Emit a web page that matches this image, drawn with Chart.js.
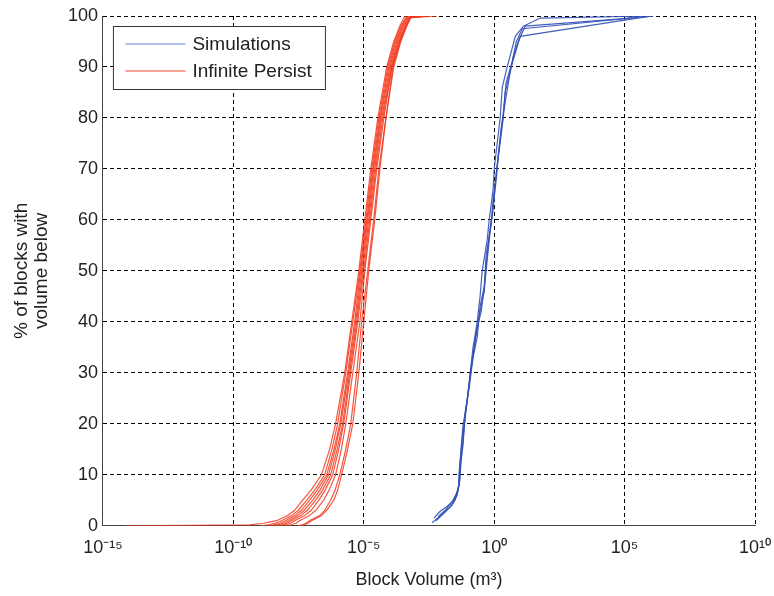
<!DOCTYPE html>
<html>
<head>
<meta charset="utf-8">
<script src="https://cdn.jsdelivr.net/npm/chart.js@4"></script>
<style>
  html, body { margin: 0; padding: 0; background: #fff; }
  #chart { display: block; }
</style>
</head>
<body>
<canvas id="chart" width="774" height="596"></canvas>
<script>
// cumulative % of blocks, shared by every infinite-persistence run
const persistPct = [0, 0.2, 0.5, 1, 2, 3, 5, 7, 10, 15, 20, 30, 40, 50, 60, 70, 80, 90, 95, 98, 99.7, 100];

// log10 of block volume (m3), one array per infinite-persistence run
const persistRun1 = [-14.12, -9.38, -8.85, -8.35, -7.92, -7.66, -7.35, -7.02, -6.62, -6.31, -6.08, -5.73, -5.46, -5.19, -4.96, -4.73, -4.46, -4.12, -3.85, -3.62, -3.46, -3.38];
const persistRun2 = [-8.92, -8.69, -8.40, -8.15, -7.77, -7.52, -7.19, -6.88, -6.50, -6.22, -6.00, -5.69, -5.42, -5.15, -4.92, -4.69, -4.42, -4.08, -3.81, -3.58, -3.38, -3.31];
const persistRun3 = [-8.69, -8.46, -8.22, -8.00, -7.65, -7.40, -7.08, -6.78, -6.42, -6.14, -5.92, -5.62, -5.35, -5.12, -4.88, -4.65, -4.38, -4.04, -3.77, -3.54, -3.35, -3.23];
const persistRun4 = [-8.54, -8.31, -8.07, -7.88, -7.54, -7.29, -6.96, -6.68, -6.35, -6.09, -5.88, -5.58, -5.31, -5.08, -4.85, -4.62, -4.35, -4.00, -3.73, -3.50, -3.31, -3.15];
const persistRun5 = [-8.38, -8.15, -7.94, -7.77, -7.42, -7.17, -6.85, -6.58, -6.27, -6.02, -5.81, -5.54, -5.27, -5.04, -4.81, -4.58, -4.31, -3.96, -3.69, -3.46, -3.27, -3.08];
const persistRun6 = [-8.23, -8.00, -7.80, -7.65, -7.27, -7.02, -6.73, -6.48, -6.19, -5.96, -5.77, -5.50, -5.23, -5.00, -4.77, -4.54, -4.27, -3.92, -3.65, -3.42, -3.23, -2.92];
const persistRun7 = [-8.00, -7.77, -7.60, -7.46, -7.08, -6.85, -6.54, -6.33, -6.08, -5.86, -5.69, -5.42, -5.15, -4.96, -4.73, -4.50, -4.23, -3.92, -3.62, -3.38, -3.23, -2.69];
const persistRun8 = [-7.54, -7.35, -7.22, -7.08, -6.69, -6.50, -6.27, -6.10, -5.92, -5.69, -5.50, -5.27, -5.08, -4.85, -4.62, -4.42, -4.15, -3.85, -3.58, -3.35, -3.19, -2.19];
const persistRun9 = [-7.46, -7.27, -7.14, -7.00, -6.62, -6.43, -6.15, -6.00, -5.85, -5.62, -5.42, -5.19, -5.00, -4.81, -4.58, -4.38, -4.15, -3.88, -3.62, -3.38, -3.23, -2.46];

// simulation runs: cumulative % and log10 of block volume (m3)
const simPct1 = [0.6, 2.2, 3.7, 5, 8, 10, 15, 20, 24, 30, 35, 40, 45, 50, 56, 60, 66, 70, 80, 86, 90, 96, 98, 99.6, 100];
const simVol1 = [-2.38, -2.00, -1.69, -1.50, -1.35, -1.35, -1.27, -1.19, -1.04, -0.92, -0.81, -0.65, -0.54, -0.46, -0.27, -0.19, -0.04, 0.00, 0.23, 0.31, 0.50, 0.81, 1.12, 1.77, 6.08];
const simPct2 = [1.5, 2.8, 3.8, 4.8, 6, 8, 12, 17, 21, 26, 31, 36, 41, 46, 51, 57, 61, 68, 72, 80, 85, 90, 96, 99.2, 100];
const simVol2 = [-2.31, -2.08, -1.81, -1.58, -1.46, -1.35, -1.31, -1.23, -1.12, -1.00, -0.88, -0.73, -0.58, -0.38, -0.31, -0.19, -0.08, 0.08, 0.15, 0.35, 0.42, 0.65, 1.00, 5.00, 6.08];
const simPct3 = [1, 2.5, 4, 6, 9, 13, 19, 23, 28, 32, 38, 42, 48, 52, 58, 62, 67, 71, 78, 83, 88, 92, 95, 98, 99.5, 100];
const simVol3 = [-2.23, -1.92, -1.62, -1.42, -1.31, -1.27, -1.15, -1.08, -0.96, -0.85, -0.69, -0.50, -0.35, -0.27, -0.15, -0.04, 0.04, 0.12, 0.27, 0.42, 0.58, 0.73, 0.92, 1.19, 5.00, 5.62];
const simPct4 = [1.8, 3.2, 5, 7, 11, 16, 22, 27, 33, 37, 43, 47, 53, 59, 64, 69, 74, 81, 87, 91, 95, 97.5, 100];
const simVol4 = [-2.15, -1.85, -1.58, -1.38, -1.31, -1.19, -1.12, -0.96, -0.81, -0.65, -0.54, -0.38, -0.31, -0.12, -0.04, 0.08, 0.19, 0.35, 0.46, 0.69, 0.85, 1.08, 6.08];

// axis ticks
const xTickExponents = [-15, -10, -5, 0, 5, 10];
const yTicks = [0, 10, 20, 30, 40, 50, 60, 70, 80, 90, 100];

const FONT = "'Liberation Sans', Arial, Helvetica, sans-serif";
const RED = 'rgba(242, 55, 28, 0.85)';
const BLUE = 'rgba(50, 80, 180, 0.9)';

const SUP = {'-': '\u207B', '0': '\u2070', '1': '\u00B9', '2': '\u00B2', '3': '\u00B3',
    '4': '\u2074', '5': '\u2075', '6': '\u2076', '7': '\u2077', '8': '\u2078', '9': '\u2079'};

function superscript(n) {
    return String(n).split('').map(c => SUP[c]).join('');
}

function toPoints(logVols, pcts) {
    return logVols.map((v, i) => ({x: Math.pow(10, v), y: pcts[i]}));
}

function lineSet(label, points, color) {
    return {
        label: label,
        data: points,
        showLine: true,
        borderColor: color,
        borderWidth: 1.2,
        pointRadius: 0,
        tension: 0,
    };
}

const persistRuns = [persistRun1, persistRun2, persistRun3, persistRun4, persistRun5,
    persistRun6, persistRun7, persistRun8, persistRun9];
const simRuns = [[simVol1, simPct1], [simVol2, simPct2], [simVol3, simPct3], [simVol4, simPct4]];

const datasets = [];
simRuns.forEach(r => datasets.push(lineSet('Simulations', toPoints(r[0], r[1]), BLUE)));
persistRuns.forEach(r => datasets.push(lineSet('Infinite Persist', toPoints(r, persistPct), RED)));

// boxed legend in the upper left corner of the plot
const boxLegend = {
    id: 'boxLegend',
    afterDraw(chart) {
        const ctx = chart.ctx;
        const area = chart.chartArea;
        const x = area.left + 10.5, y = area.top + 10.5;
        const w = 212, h = 63;
        const entries = [['Simulations', 'rgb(100, 130, 210)'], ['Infinite Persist', 'rgb(240, 70, 45)']];
        ctx.save();
        ctx.fillStyle = '#fff';
        ctx.fillRect(x, y, w, h);
        ctx.strokeStyle = '#333';
        ctx.lineWidth = 1;
        ctx.strokeRect(x, y, w, h);
        ctx.font = '19px ' + FONT;
        ctx.textBaseline = 'middle';
        entries.forEach((e, i) => {
            const ly = y + 17.5 + i * 27;
            ctx.strokeStyle = e[1];
            ctx.lineWidth = 1.2;
            ctx.beginPath();
            ctx.moveTo(x + 12, ly);
            ctx.lineTo(x + 72, ly);
            ctx.stroke();
            ctx.fillStyle = '#222';
            ctx.fillText(e[0], x + 79, ly + 1);
        });
        ctx.restore();
    }
};

new Chart(document.getElementById('chart'), {
    type: 'scatter',
    data: { datasets: datasets },
    options: {
        responsive: false,
        animation: false,
        devicePixelRatio: 1,
        layout: { padding: { left: 4, right: 19, top: 16, bottom: 0 } },
        plugins: {
            legend: { display: false },
            tooltip: { enabled: false },
        },
        scales: {
            x: {
                type: 'logarithmic',
                min: Math.pow(10, xTickExponents[0]),
                max: Math.pow(10, xTickExponents[xTickExponents.length - 1]),
                afterBuildTicks: scale => {
                    scale.ticks = xTickExponents.map(e => ({value: Math.pow(10, e)}));
                },
                // the last label may hang over the right padding
                afterFit: scale => {
                    scale.paddingRight = 0;
                },
                ticks: {
                    autoSkip: false,
                    maxRotation: 0,
                    padding: 11,
                    color: '#222',
                    font: { family: FONT, size: 18 },
                    callback: v => '10' + superscript(Math.round(Math.log10(v))),
                },
                grid: { color: '#000', lineWidth: 1, drawTicks: false },
                border: { display: true, color: '#444', width: 1, dash: [4, 3] },
                title: {
                    display: true,
                    text: 'Block Volume (m\u00B3)',
                    color: '#222',
                    font: { family: FONT, size: 18 },
                    padding: { top: 0, bottom: 5 },
                },
            },
            y: {
                min: yTicks[0],
                max: yTicks[yTicks.length - 1],
                afterBuildTicks: scale => {
                    scale.ticks = yTicks.map(v => ({value: v}));
                },
                ticks: {
                    padding: 5,
                    color: '#222',
                    font: { family: FONT, size: 18 },
                },
                grid: { color: '#000', lineWidth: 1, drawTicks: false },
                border: { display: true, color: '#444', width: 1, dash: [4, 3] },
                title: {
                    display: true,
                    text: ['% of blocks with', 'volume below'],
                    color: '#222',
                    font: { family: FONT, size: 19, lineHeight: 1.05 },
                    padding: { top: 8, bottom: 11 },
                },
            },
        },
    },
    plugins: [boxLegend],
});
</script>
</body>
</html>
